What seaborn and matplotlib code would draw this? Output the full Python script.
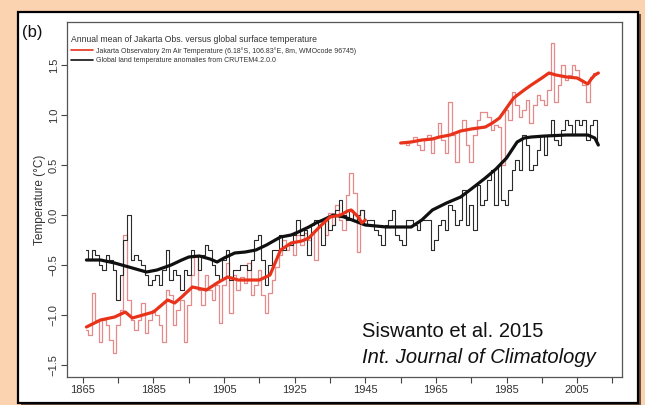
import numpy as np
import pandas as pd
import matplotlib
matplotlib.use("Agg")
import matplotlib.pyplot as plt
from matplotlib.patches import Rectangle
import seaborn as sns

# ---------------- data ----------------
glob_years = list(range(1866, 2012))
glob_annual = [
    -0.35, -0.45, -0.35, -0.40, -0.50, -0.55, -0.40, -0.45, -0.55, -0.85,
    -0.60, -0.25, 0.00, -0.45, -0.40, -0.45, -0.50, -0.60, -0.70, -0.65,
    -0.60, -0.70, -0.55, -0.35, -0.65, -0.55, -0.60, -0.75, -0.55, -0.60,
    -0.35, -0.40, -0.55, -0.40, -0.30, -0.35, -0.50, -0.60, -0.65, -0.45,
    -0.35, -0.65, -0.55, -0.55, -0.50, -0.50, -0.55, -0.45, -0.25, -0.20,
    -0.45, -0.70, -0.50, -0.35, -0.35, -0.20, -0.35, -0.30, -0.30, -0.20,
    -0.05, -0.20, -0.15, -0.40, -0.10, -0.05, -0.10, -0.30, -0.05, -0.15,
    -0.10, 0.05, 0.15, 0.00, -0.05, 0.05, -0.05, 0.00, 0.05, -0.10,
    -0.05, -0.05, -0.15, -0.20, -0.30, -0.10, -0.05, 0.05, -0.20, -0.25,
    -0.30, -0.05, -0.05, -0.10, -0.15, -0.05, -0.05, -0.05, -0.35, -0.25,
    -0.10, -0.05, -0.15, 0.10, 0.05, -0.10, -0.05, 0.25, -0.10, 0.10,
    -0.15, 0.30, 0.10, 0.15, 0.35, 0.45, 0.10, 0.50, 0.15, 0.10,
    0.25, 0.45, 0.55, 0.45, 0.80, 0.70, 0.45, 0.50, 0.65, 0.80,
    0.60, 0.80, 0.95, 0.75, 0.70, 0.85, 0.95, 0.90, 0.80, 0.95,
    0.90, 0.95, 0.75, 0.90, 0.95, 0.70,
]
glob_smooth_years = [1866, 1870, 1874, 1878, 1881, 1883, 1886, 1890, 1893, 1895,
                     1898, 1901, 1903, 1905, 1908, 1911, 1914, 1917, 1921, 1924,
                     1926, 1929, 1931, 1933, 1936, 1939, 1942, 1945, 1948, 1951,
                     1955, 1958, 1961, 1964, 1968, 1972, 1975, 1979, 1982, 1985,
                     1988, 1990, 1992, 1996, 2002, 2005, 2008, 2010, 2011]
glob_smooth = [-0.45, -0.45, -0.48, -0.52, -0.55, -0.57, -0.55, -0.50, -0.45, -0.42,
               -0.41, -0.44, -0.47, -0.43, -0.38, -0.37, -0.35, -0.30, -0.22, -0.20,
               -0.17, -0.12, -0.08, -0.05, 0.00, -0.02, -0.06, -0.10, -0.11, -0.12,
               -0.12, -0.12, -0.05, 0.05, 0.12, 0.18, 0.26, 0.37, 0.46, 0.57,
               0.73, 0.77, 0.78, 0.79, 0.80, 0.80, 0.80, 0.77, 0.70]

jak_years_early = list(range(1866, 1946))
jak_annual_early = [
    -1.15, -1.20, -0.78, -1.05, -1.27, -1.05, -1.10, -1.25, -1.38, -1.10,
    -0.95, -0.20, -0.85, -1.05, -1.15, -1.05, -0.88, -1.18, -1.05, -0.95,
    -1.00, -1.10, -1.27, -0.75, -0.80, -1.10, -0.95, -0.85, -1.27, -0.90,
    -0.60, -0.42, -0.75, -0.90, -0.60, -0.75, -0.85, -0.70, -1.08, -0.70,
    -0.48, -0.98, -0.60, -0.75, -0.62, -0.68, -0.48, -0.80, -0.70, -0.55,
    -0.80, -0.98, -0.78, -0.65, -0.52, -0.40, -0.25, -0.35, -0.28, -0.40,
    -0.20, -0.30, -0.18, -0.25, -0.18, -0.45, -0.10, -0.05, -0.20, 0.02,
    -0.10, 0.10, -0.05, -0.15, 0.20, 0.42, 0.22, -0.37, 0.05, -0.05,
]
jak_years_late = list(range(1955, 2012))
jak_annual_late = [
    0.72, 0.72, 0.70, 0.74, 0.78, 0.70, 0.65, 0.75, 0.80, 0.62,
    0.78, 0.92, 0.75, 0.62, 1.13, 0.80, 0.53, 0.85, 0.95, 0.70,
    0.53, 0.80, 0.95, 1.03, 1.03, 0.98, 0.85, 0.90, 0.88, 0.50,
    1.05, 0.95, 1.23, 1.10, 0.98, 1.05, 1.15, 0.92, 1.10, 1.20,
    1.15, 1.10, 1.25, 1.72, 1.13, 1.30, 1.50, 1.35, 1.40, 1.50,
    1.45, 1.35, 1.30, 1.13, 1.38, 1.42, 1.42,
]
jak_smooth_years_early = [1866, 1870, 1874, 1877, 1879, 1882, 1885, 1889, 1891, 1893,
                          1896, 1900, 1903, 1906, 1909, 1912, 1915, 1918, 1921, 1924,
                          1927, 1929, 1932, 1935, 1938, 1940, 1941, 1943, 1944, 1945]
jak_smooth_early = [-1.12, -1.05, -1.02, -0.97, -1.03, -1.00, -0.97, -0.85, -0.88, -0.82,
                    -0.72, -0.75, -0.68, -0.62, -0.65, -0.65, -0.65, -0.60, -0.35, -0.28,
                    -0.26, -0.23, -0.12, -0.02, 0.00, 0.04, 0.05, -0.02, -0.08, -0.05]
jak_smooth_years_late = [1955, 1958, 1961, 1964, 1966, 1969, 1972, 1975, 1979, 1981,
                         1983, 1985, 1987, 1990, 1992, 1995, 1997, 1999, 2002, 2005,
                         2007, 2008, 2009, 2010, 2011]
jak_smooth_late = [0.72, 0.73, 0.75, 0.76, 0.78, 0.80, 0.84, 0.86, 0.88, 0.92,
                   0.97, 1.07, 1.17, 1.25, 1.30, 1.37, 1.42, 1.40, 1.38, 1.37,
                   1.33, 1.31, 1.36, 1.40, 1.42]

x_major = [1865, 1885, 1905, 1925, 1945, 1965, 1985, 2005]
x_minor = [1875, 1895, 1915, 1935, 1955, 1975, 1995, 2015]
y_ticks = [-1.5, -1.0, -0.5, 0.0, 0.5, 1.0, 1.5]
y_ticklabels = ["\u22121.5", "\u22121.0", "\u22120.5", "0.0", "0.5", "1.0", "1.5"]

title_txt = "Annual mean of Jakarta Obs. versus global surface temperature"
jak_label = "Jakarta Observatory 2m Air Temperature (6.18\u00b0S, 106.83\u00b0E, 8m, WMOcode 96745)"
glob_label = "Global land temperature anomalies from CRUTEM4.2.0.0"

# ---------------- plotting ----------------
sns.set_theme(style="white")
plt.rcParams["font.family"] = ["Liberation Sans", "DejaVu Sans"]

W, H = 645, 405
fig = plt.figure(figsize=(W / 100, H / 100), dpi=100)
fig.patch.set_facecolor("#fbd3b0")

# white framed panel with a shadow
fig.patches.append(Rectangle((21 / W, 0 / H), 620 / W, 391 / H, transform=fig.transFigure,
                             facecolor="#6b5040", edgecolor="none", zorder=-3))
fig.patches.append(Rectangle((18 / W, 2 / H), 620 / W, 391 / H, transform=fig.transFigure,
                             facecolor="white", edgecolor="black", linewidth=1.6, zorder=-2))

ax = fig.add_axes([67 / W, 28 / H, 555 / W, 355 / H])
ax.set_facecolor("white")

jak_pink = "#e58a8a"
jak_red = "#e8321a"
glob_grey = "#2a2a2a"

df_ge = pd.DataFrame({"year": glob_years, "val": glob_annual})
df_je = pd.DataFrame({"year": jak_years_early, "val": jak_annual_early})
df_jl = pd.DataFrame({"year": jak_years_late, "val": jak_annual_late})

sns.lineplot(data=df_je, x="year", y="val", ax=ax, color=jak_pink, lw=0.9,
             drawstyle="steps-mid", estimator=None, zorder=2)
sns.lineplot(data=df_jl, x="year", y="val", ax=ax, color=jak_pink, lw=0.9,
             drawstyle="steps-mid", estimator=None, zorder=2)
sns.lineplot(data=df_ge, x="year", y="val", ax=ax, color=glob_grey, lw=0.8,
             drawstyle="steps-mid", estimator=None, zorder=3)

sns.lineplot(x=glob_smooth_years, y=glob_smooth, ax=ax, color="#101010", lw=2.3,
             estimator=None, zorder=4, label=glob_label)
sns.lineplot(x=jak_smooth_years_early, y=jak_smooth_early, ax=ax, color=jak_red, lw=2.3,
             estimator=None, zorder=5, label=jak_label)
sns.lineplot(x=jak_smooth_years_late, y=jak_smooth_late, ax=ax, color=jak_red, lw=2.3,
             estimator=None, zorder=5)

ax.set_xlim(1860.5, 2017.7)
ax.set_ylim(-1.62, 1.93)
ax.set_xticks(x_major)
ax.set_xticklabels([str(v) for v in x_major])
ax.set_xticks(x_minor, minor=True)
ax.set_yticks(y_ticks)
ax.set_yticklabels(y_ticklabels, rotation=90, va="center")
ax.tick_params(axis="both", which="both", direction="out", length=4, width=0.8,
               color="#444444", labelsize=8, labelcolor="#333333", pad=2,
               bottom=True, left=True)
ax.tick_params(axis="x", which="minor", length=4)
for sp in ax.spines.values():
    sp.set_color("#555555")
    sp.set_linewidth(0.9)
ax.set_xlabel("")
ax.set_ylabel("Temperature (\u00b0C)", fontsize=8.5, color="#333333", labelpad=2)

handles, labels = ax.get_legend_handles_labels()
order = [labels.index(jak_label), labels.index(glob_label)]
leg = ax.legend([handles[i] for i in order], [labels[i] for i in order],
                loc="upper left", bbox_to_anchor=(0.0, 0.975), frameon=False,
                title=title_txt, title_fontsize=6.2, fontsize=5.0,
                handlelength=3.2, handletextpad=0.4, labelspacing=0.4,
                borderaxespad=0.3, borderpad=0.3)
leg._legend_box.align = "left"
for t in leg.get_texts():
    t.set_color("#333333")
leg.get_title().set_color("#333333")
for lh in leg.get_lines():
    lh.set_linewidth(1.2)

ax.text(0.532, 0.113, "Siswanto et al. 2015", transform=ax.transAxes,
        fontsize=14.5, color="#111111", ha="left", va="baseline")
ax.text(0.532, 0.039, "Int. Journal of Climatology", transform=ax.transAxes,
        fontsize=14.5, style="italic", color="#111111", ha="left", va="baseline")

fig.text(22 / W, 1 - 32 / H, "(b)", fontsize=12, color="#111111", ha="left", va="center")

fig.savefig("out.png", dpi=100, facecolor=fig.get_facecolor())
